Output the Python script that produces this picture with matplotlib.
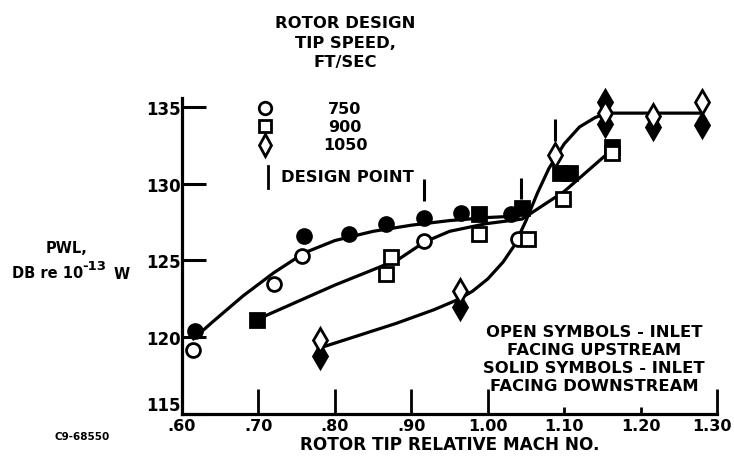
import matplotlib.pyplot as plt
import matplotlib.transforms as mtransforms
from matplotlib.lines import Line2D

plt.rcParams['font.family'] = ['DejaVu Sans']
plt.rcParams['font.weight'] = 'bold'
plt.rcParams['axes.labelweight'] = 'bold'

# measured points: (mach, pwl)
m750_open = [0.615, 0.72, 0.757, 0.917, 1.040]
p750_open = [119.2, 123.5, 125.3, 126.3, 126.4]
m750_solid = [0.617, 0.76, 0.819, 0.867, 0.917, 0.965, 1.030]
p750_solid = [120.4, 126.6, 126.7, 127.4, 127.8, 128.1, 128.0]

m900_open = [0.867, 0.874, 0.988, 1.052, 1.098, 1.162]
p900_open = [124.1, 125.2, 126.7, 126.4, 129.0, 132.0]
m900_solid = [0.698, 0.988, 1.045, 1.095, 1.108, 1.162]
p900_solid = [121.1, 128.0, 128.4, 130.7, 130.7, 132.4]

m1050_open = [0.78, 0.963, 1.088, 1.153, 1.216, 1.28]
p1050_open = [119.8, 123.0, 131.9, 134.6, 134.4, 135.3]
m1050_solid = [0.78, 0.963, 1.153, 1.153, 1.216, 1.28]
p1050_solid = [118.8, 122.0, 135.3, 133.9, 133.7, 133.8]

# faired curves
c750_m = [0.615, 0.64, 0.68, 0.72, 0.76, 0.80, 0.85, 0.90, 0.95, 1.00, 1.04]
c750_p = [119.9, 121.0, 122.7, 124.2, 125.5, 126.3, 126.9, 127.3, 127.6, 127.8, 127.9]
c900_m = [0.70, 0.75, 0.80, 0.85, 0.884, 0.917, 0.95, 0.998, 1.045, 1.10, 1.162]
c900_p = [121.2, 122.3, 123.4, 124.4, 125.1, 126.2, 126.9, 127.4, 127.7, 129.5, 132.2]
c1050_m = [0.78, 0.83, 0.88, 0.93, 0.963, 0.98, 1.00, 1.02, 1.035, 1.05, 1.065,
           1.08, 1.10, 1.12, 1.14, 1.155, 1.216, 1.28]
c1050_p = [119.3, 120.1, 120.9, 121.8, 122.5, 123.0, 123.8, 124.9, 126.0, 127.6, 129.4,
           131.0, 132.6, 133.7, 134.3, 134.6, 134.6, 134.6]

design_m = [0.917, 1.044, 1.088]
design_p = [128.9, 129.0, 132.8]

xticks = [0.60, 0.70, 0.80, 0.90, 1.00, 1.10, 1.20, 1.30]
xlabels = ['.60', '.70', '.80', '.90', '1.00', '1.10', '1.20', '1.30']
yticks = [115, 120, 125, 130, 135]

fig = plt.figure(figsize=(7.34, 4.64), dpi=100)
ax = fig.add_axes([0.248, 0.1056, 0.729, 0.6716])

lw = 2.3
ax.plot(c750_m, c750_p, color='black', lw=lw, solid_joinstyle='round')
ax.plot(c900_m, c900_p, color='black', lw=lw, solid_joinstyle='round')
ax.plot(c1050_m, c1050_p, color='black', lw=lw, solid_joinstyle='round')

mk = dict(linestyle='none', markeredgecolor='black', markeredgewidth=2, clip_on=False, zorder=3)
ax.plot(m750_solid, p750_solid, marker='o', ms=10, markerfacecolor='black', **mk)
ax.plot(m750_open, p750_open, marker='o', ms=10, markerfacecolor='white', **mk)
ax.plot(m900_solid, p900_solid, marker='s', ms=9.5, markerfacecolor='black', **mk)
ax.plot(m900_open, p900_open, marker='s', ms=9.5, markerfacecolor='white', **mk)
ax.plot(m1050_solid, p1050_solid, marker='d', ms=12, markerfacecolor='black', **mk)
ax.plot(m1050_open, p1050_open, marker='d', ms=12, markerfacecolor='white', **mk)

for m, p in zip(design_m, design_p):
    ax.vlines(m, p, p + 1.4, color='black', lw=2.2)

ax.set_xlim(0.60, 1.30)
ax.set_ylim(115, 135.3)
ax.spines['top'].set_visible(False)
ax.spines['right'].set_visible(False)
ax.spines['left'].set_linewidth(2.3)
ax.spines['bottom'].set_linewidth(2.3)
ax.spines['left'].set_bounds(115, 135.6)

ax.set_xticks(xticks)
ax.set_xticklabels(xlabels, fontsize=11.5)
ax.set_yticks(yticks)
ax.set_yticklabels([str(v) for v in yticks], fontsize=12)
ax.tick_params(axis='x', direction='in', length=18, width=2, pad=3)
ax.tick_params(axis='y', direction='in', length=17, width=2.2, pad=1)
for i in (0, 5, 6):
    ax.xaxis.get_major_ticks()[i].tick1line.set_markersize(5)
ax.yaxis.get_major_ticks()[0].label1.set_va('bottom')
last = ax.xaxis.get_major_ticks()[-1].label1
last.set_transform(last.get_transform() +
                   mtransforms.ScaledTranslation(-4 / 72, 0, fig.dpi_scale_trans))

ax.set_xlabel('ROTOR TIP RELATIVE MACH NO.', fontsize=12.2, labelpad=1)

# y label
fig.text(67 / 734, 1 - 249 / 464, 'PWL,', ha='center', va='center', fontsize=10.5)
fig.text(12 / 734, 1 - 274 / 464, 'DB re 10', ha='left', va='center', fontsize=10.5)
fig.text(82 / 734, 1 - 266 / 464, '-13', ha='left', va='center', fontsize=9.5)
fig.text(114 / 734, 1 - 275 / 464, 'W', ha='left', va='center', fontsize=10.5)
fig.text(82 / 734, 1 - 437 / 464, 'C9-68550', ha='center', va='center', fontsize=7.5)

# key
for y, s in zip([23, 43, 62], ['ROTOR DESIGN', 'TIP SPEED,', 'FT/SEC']):
    fig.text(345 / 734, 1 - y / 464, s, ha='center', va='center', fontsize=11.8)
for y, mkr, ms, s in zip([109, 127, 146], ['o', 's', 'd'], [9, 8.5, 11], ['750', '900', '1050']):
    fig.add_artist(Line2D([265 / 734], [1 - y / 464], marker=mkr, ms=ms, markerfacecolor='white',
                          markeredgecolor='black', markeredgewidth=2, linestyle='none'))
    fig.text(345 / 734, 1 - y / 464, s, ha='center', va='center', fontsize=11.5)
fig.add_artist(Line2D([268 / 734, 268 / 734], [1 - 167 / 464, 1 - 189 / 464], color='black', lw=2))
fig.text(281 / 734, 1 - 178 / 464, 'DESIGN POINT', ha='left', va='center', fontsize=11.8)

# note
note = 'OPEN SYMBOLS - INLET\nFACING UPSTREAM\nSOLID SYMBOLS - INLET\nFACING DOWNSTREAM'
fig.text(594 / 734, 1 - 360 / 464, note, ha='center', va='center', fontsize=11.8,
         linespacing=1.25)

fig.savefig('out.png', dpi=100)
